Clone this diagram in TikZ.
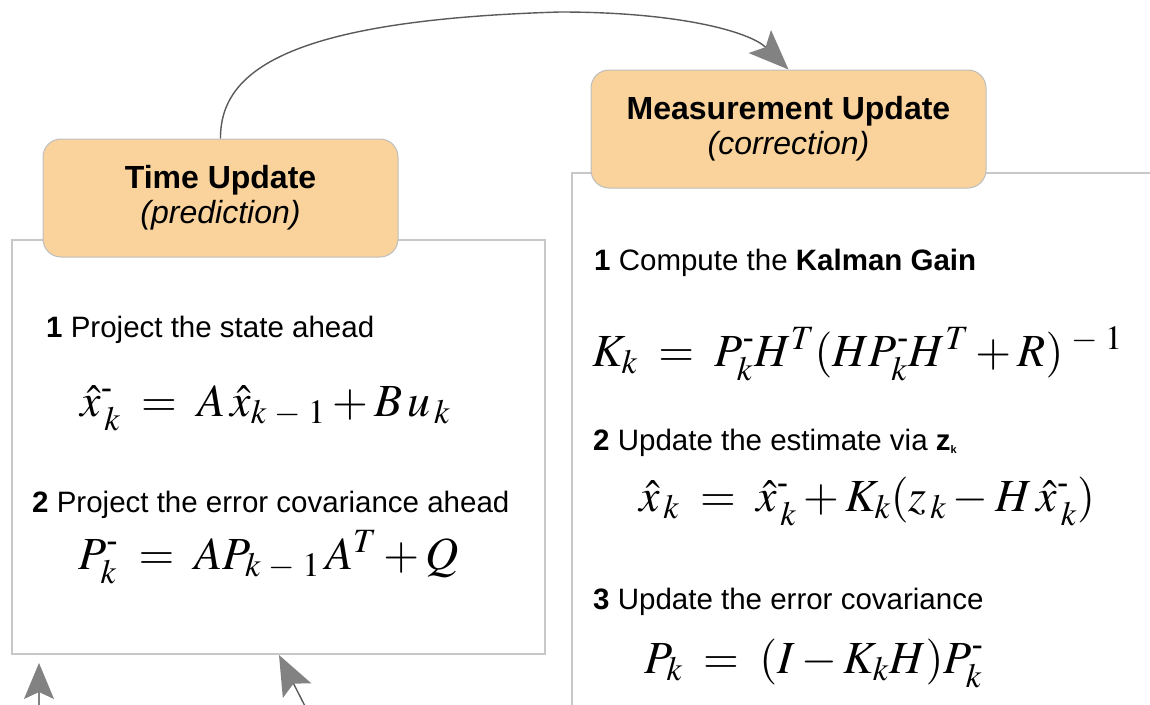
\documentclass[tikz,border=0pt]{standalone}
\usepackage{amsmath}
\usepackage{mathptmx}
\usepackage[no-math]{fontspec}
\setmainfont{Liberation Sans}
\usetikzlibrary{arrows.meta}
\definecolor{orangefill}{RGB}{250,211,156}
\definecolor{boxline}{RGB}{200,200,200}
\definecolor{tagline}{RGB}{190,190,190}
\definecolor{curveline}{RGB}{90,90,90}
\definecolor{tipgray}{RGB}{130,130,130}
\newcommand\mhy{\text{-}}
\newcommand\zsub{\textbf{z}\raisebox{-0.25ex}{\fontsize{11}{11}\selectfont\bfseries k}}
\tikzset{
  panel/.style={draw=boxline, line width=1.6pt, fill=white, inner sep=0pt},
  tag/.style={draw=tagline, line width=1pt, fill=orangefill, rounded corners=18pt,
    inner sep=0pt, align=center, font=\fontsize{32}{35}\selectfont},
  bodytext/.style={anchor=base west, inner sep=0pt, font=\fontsize{29.5}{34}\selectfont},
  eqtext/.style={anchor=base west, inner sep=0pt, font=\fontsize{46}{52}\selectfont},
  flow/.style={line width=1.4pt, draw=curveline,
    -{Stealth[length=40pt,width=32pt,inset=8pt,color=tipgray]}},
  flowlight/.style={line width=1.4pt, draw=tipgray,
    -{Stealth[length=36pt,width=30pt,inset=7pt,color=tipgray]}}
}
\begin{document}
\begin{tikzpicture}[x=1pt,y=-1pt]
\useasboundingbox (0,0) rectangle (1150,704);
% panels
\node[panel, minimum width=533pt, minimum height=414pt] (tb) at (278.5,447) {};
\node[panel, minimum width=600pt, minimum height=560pt] (mb) at (872,453) {};
% tags
\node[tag, minimum width=355pt, minimum height=118pt] (tu) at (220.5,198)
  {\bfseries Time Update\\\itshape (prediction)};
\node[tag, minimum width=395pt, minimum height=118pt] (mu) at (788.5,129)
  {\bfseries Measurement Update\\\itshape (correction)};
% left texts
\node[bodytext] (t1) at (46,337) {\textbf{1} Project the state ahead};
\node[eqtext] (e1) at (80,416) {$\hat{x}_{\,k}^{\mhy}\;=\;A\,\hat{x}_{k\;-\;1}+B\,u_{\,k}$};
\node[bodytext] (t2) at (32,512) {\textbf{2} Project the error covariance ahead};
\node[eqtext] (e2) at (78,569) {$P_{k}^{\mhy}\;=\;AP_{k\;-\;1}\,A^T+Q$};
% right texts
\node[bodytext] (r1) at (594,270) {\textbf{1} Compute the \textbf{Kalman Gain}};
\node[eqtext] (e3) at (592,366) {$K_{k}\;=\;P_{k}^{\mhy}H^T(H P_{k}^{\mhy}H^T+R)^{\;-\;1}$};
\node[bodytext] (r2) at (593,450) {\textbf{2} Update the estimate via \zsub};
\node[eqtext] (e4) at (639,511) {$\hat{x}_{\,k}\;=\;\hat{x}_{\,k}^{\mhy}+K_{k}(z_{\,k}-H\,\hat{x}_{\,k}^{\mhy})$};
\node[bodytext] (r3) at (593,609) {\textbf{3} Update the error covariance};
\node[eqtext] (e5) at (644,673) {$P_{k}\;=\;(I-K_{k}H)P_{k}^{\mhy}$};
% connectors
\draw[flow] (tu.north) .. controls (220,70) and (290,20) .. (560,12)
  .. controls (680,12) and (750,32) .. (mu.north);
\coordinate (a1s) at (39,712);
\coordinate (a1t) at (39,663);
\draw[flowlight] (a1s) -- (a1t);
\coordinate (a2s) at (308,712);
\coordinate (a2t) at (279,655);
\draw[flow] (a2s) -- (a2t);
\end{tikzpicture}
\end{document}
